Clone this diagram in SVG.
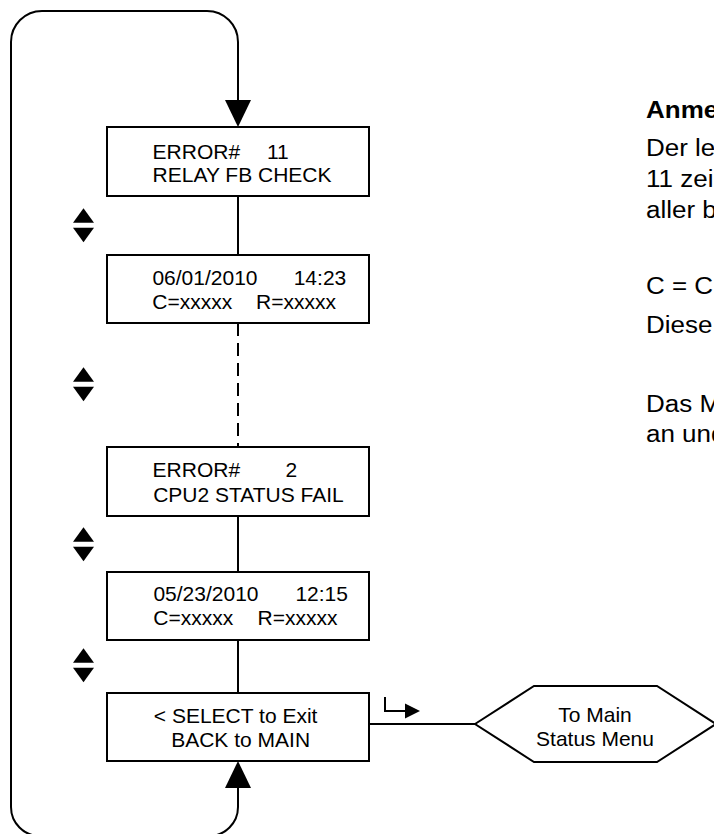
<svg xmlns="http://www.w3.org/2000/svg" width="714" height="834" viewBox="0 0 714 834">
<style>
.box{fill:#fff;stroke:#000;stroke-width:2}
.ln{fill:none;stroke:#000;stroke-width:2}
.dash{fill:none;stroke:#000;stroke-width:2;stroke-dasharray:13 7}
.ah{fill:#000;stroke:none}
text{font-family:"Liberation Sans",Arial,sans-serif;font-size:21px;fill:#000}
.note{font-size:23px}
.b{font-weight:bold}
</style>
<rect width="714" height="834" fill="#fff"/>
<g id="connectors">
<path class="ln" d="M238,100 V42 A31,31 0 0 0 207,11 H42 A31,31 0 0 0 11,42 V807 A29,29 0 0 0 40,836 H209 A29,29 0 0 0 238,807 V788"/>
<polygon class="ah" points="225,100 251,100 238,127"/>
<polygon class="ah" points="225,788 251,788 238,761"/>
<line class="ln" x1="238" y1="196" x2="238" y2="255"/>
<line class="dash" x1="238" y1="323" x2="238" y2="447"/>
<line class="ln" x1="238" y1="516" x2="238" y2="572"/>
<line class="ln" x1="238" y1="640" x2="238" y2="693"/>
<line class="ln" x1="369" y1="724" x2="475" y2="724"/>
<path class="ln" d="M385,697 V711 H406"/>
<polygon class="ah" points="405,703.5 405,718.5 420,711"/>
</g>
<g id="updown">
<polygon class="ah" points="73,222.8 94,222.8 83.5,208.3"/>
<polygon class="ah" points="73,227.8 94,227.8 83.5,242.3"/>
<polygon class="ah" points="73,381.7 94,381.7 83.5,367.2"/>
<polygon class="ah" points="73,386.7 94,386.7 83.5,401.2"/>
<polygon class="ah" points="73,541.7 94,541.7 83.5,527.2"/>
<polygon class="ah" points="73,546.7 94,546.7 83.5,561.2"/>
<polygon class="ah" points="73,662.7 94,662.7 83.5,648.2"/>
<polygon class="ah" points="73,667.7 94,667.7 83.5,682.2"/>
</g>
<g id="n1">
<rect class="box" x="107" y="127" width="262" height="69"/>
<text x="152.6" y="158.5">ERROR#</text>
<text x="267" y="158.5">11</text>
<text x="152.6" y="181.7">RELAY FB CHECK</text>
</g>
<g id="n2">
<rect class="box" x="107" y="255" width="262" height="68"/>
<text x="152.4" y="285">06/01/2010</text>
<text x="293.7" y="285">14:23</text>
<text x="152.3" y="308.5">C=xxxxx</text>
<text x="256" y="308.5">R=xxxxx</text>
</g>
<g id="n3">
<rect class="box" x="107" y="447" width="262" height="69"/>
<text x="152.6" y="477.3">ERROR#</text>
<text x="285.4" y="477.3">2</text>
<text x="153.2" y="501.7">CPU2 STATUS FAIL</text>
</g>
<g id="n4">
<rect class="box" x="107" y="572" width="262" height="68"/>
<text x="153.4" y="601">05/23/2010</text>
<text x="295.4" y="601">12:15</text>
<text x="153.3" y="625">C=xxxxx</text>
<text x="257.6" y="625">R=xxxxx</text>
</g>
<g id="n5">
<rect class="box" x="107" y="693" width="262" height="68"/>
<text x="153.8" y="722.7">&lt; SELECT to Exit</text>
<text x="171.2" y="747.3">BACK to MAIN</text>
</g>
<g id="n6">
<polygon class="box" points="475,724 534,686 657,686 716,724 657,762 534,762"/>
<text x="595" y="721.7" text-anchor="middle">To Main</text>
<text x="595" y="746" text-anchor="middle">Status Menu</text>
</g>
<g id="note" transform="translate(646,0) scale(1.13,1)">
<text class="note b" x="0" y="118.3">Anme</text>
<text class="note" x="0" y="155.7">Der le</text>
<text class="note" x="0" y="186.7">11 zei</text>
<text class="note" x="0" y="217.7">aller b</text>
<text class="note" x="0" y="294">C = C</text>
<text class="note" x="0" y="333.3">Diese</text>
<text class="note" x="0" y="411.7">Das M</text>
<text class="note" x="0" y="441.7">an und</text>
</g>
</svg>
